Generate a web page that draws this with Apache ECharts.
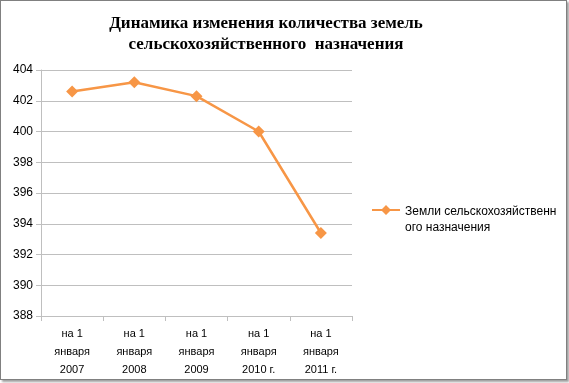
<!DOCTYPE html>
<html><head><meta charset="utf-8">
<script src="https://cdn.jsdelivr.net/npm/echarts@6/dist/echarts.min.js"></script>
<style>
html,body{margin:0;padding:0;background:#fff;}
#frame{position:absolute;left:0;top:0;width:565px;height:378px;border:1px solid #808080;box-shadow:2px 2px 2px #a0a0a0;background:#fff;}
#c{position:absolute;left:0;top:0;width:569px;height:383px;}
</style></head>
<body>
<div id="frame"></div>
<div id="c"></div>
<script>
const titleText = "Динамика изменения количества земель\nсельскохозяйственного  назначения";
const categories = ["на 1\nянваря\n2007","на 1\nянваря\n2008","на 1\nянваря\n2009","на 1\nянваря\n2010 г.","на 1\nянваря\n2011 г."];
const seriesName = "Земли сельскохозяйственного назначения";
const legendText = "Земли сельскохозяйственн\nого назначения";
const values = [402.6, 403.2, 402.3, 400.0, 393.4];
const yMin = 388, yMax = 404, yStep = 2;

const chart = echarts.init(document.getElementById('c'), null, {renderer:'canvas'});
chart.setOption({
  animation:false,
  title:{text:titleText, left:261, top:8, textAlign:'center',
    textStyle:{fontFamily:'Liberation Serif', fontWeight:'bold', fontSize:17, lineHeight:21, color:'#000'}},
  grid:{left:41, right:217, top:70, bottom:67},
  legend:{show:true, left:367, top:199, orient:'vertical', itemWidth:28, itemHeight:32, itemGap:4,
    formatter:()=>legendText,
    textStyle:{fontFamily:'Liberation Sans', fontSize:12, lineHeight:16, color:'#000'},
    data:[{name:seriesName, icon:'path://M0,0 L0.01,0 Z M0,32 L0.01,32 Z M0,5 L28,5 L28,7 L0,7 Z M14,1 L19,6 L14,11 L9,6 Z'}]},
  xAxis:{type:'category', data:categories, boundaryGap:true,
    axisLine:{lineStyle:{color:'#bfbfbf', width:1}},
    axisTick:{show:true, length:5, lineStyle:{color:'#bfbfbf'}},
    axisLabel:{fontFamily:'Liberation Sans', fontSize:11, lineHeight:18, color:'#000', margin:9, interval:0}},
  yAxis:{type:'value', min:yMin, max:yMax, interval:yStep,
    axisLine:{show:true, lineStyle:{color:'#bfbfbf'}},
    axisTick:{show:true, length:5, lineStyle:{color:'#bfbfbf'}},
    splitLine:{lineStyle:{color:'#bfbfbf'}},
    axisLabel:{fontFamily:'Liberation Sans', fontSize:12, color:'#000', margin:8}},
  series:[{name:seriesName, type:'line', data:values, color:'#f79646',
    lineStyle:{width:2.5, color:'#f79646'}, symbol:'diamond', symbolSize:12,
    itemStyle:{color:'#f79646'}}]
});
</script>
</body></html>
